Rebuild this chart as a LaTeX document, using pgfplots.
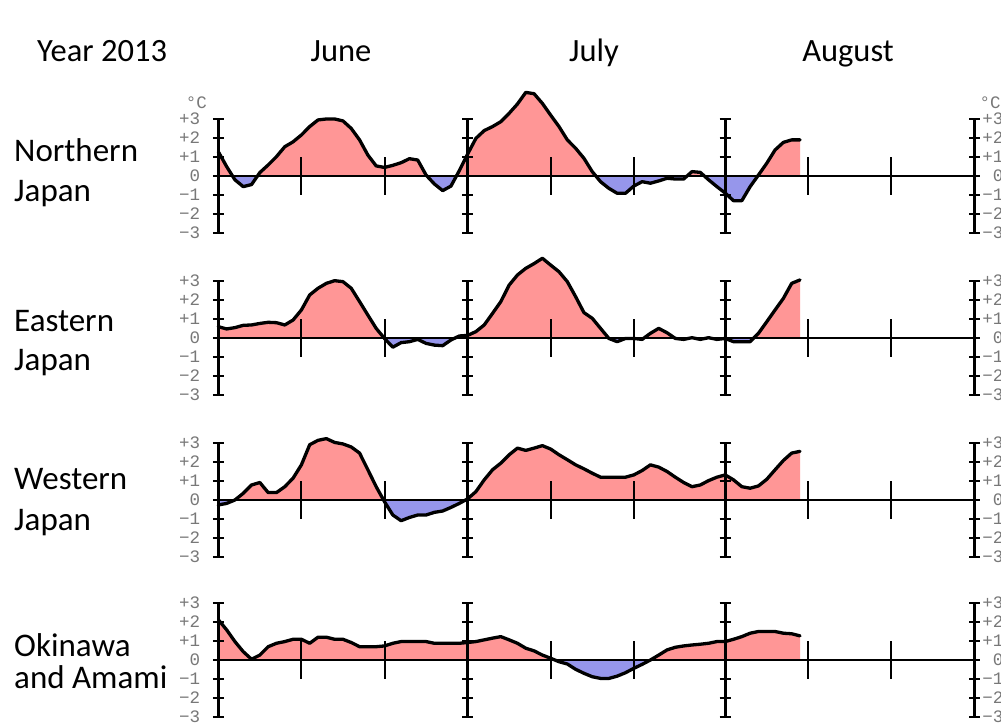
\documentclass[border=0pt]{standalone}
\usepackage{fontspec}
\setmainfont{Carlito}
\newfontfamily\monofont{Liberation Mono}
\usepackage{pgfplots}
\pgfplotsset{compat=1.18}
\usepackage{pgfplotstable}
\definecolor{posfill}{RGB}{255,150,150}
\definecolor{negfill}{RGB}{150,150,235}
\definecolor{lblgray}{RGB}{120,120,120}

% Northern Japan (day index: 1 = 1 June, 31 = 1 July, 62 = 1 August)
\pgfplotstableread{
d v
1 1.28
2 0.50
3 -0.20
4 -0.56
5 -0.45
6 0.18
7 0.58
8 1.02
9 1.54
10 1.80
11 2.16
12 2.60
13 2.95
14 3.00
15 3.00
16 2.90
17 2.50
18 1.90
19 1.10
20 0.53
21 0.45
22 0.56
23 0.70
24 0.91
25 0.84
26 0.05
27 -0.42
28 -0.77
29 -0.53
30 0.28
31 1.15
32 1.98
33 2.39
34 2.60
35 2.86
36 3.30
37 3.79
38 4.40
39 4.33
40 3.82
41 3.20
42 2.60
43 1.90
44 1.46
45 0.93
46 0.23
47 -0.30
48 -0.65
49 -0.91
50 -0.91
51 -0.53
52 -0.30
53 -0.38
54 -0.26
55 -0.12
56 -0.16
57 -0.16
58 0.23
59 0.19
60 -0.20
61 -0.56
62 -0.90
63 -1.30
64 -1.30
65 -0.56
66 0.05
67 0.67
68 1.37
69 1.77
70 1.90
71 1.90
}\dN

% Eastern Japan
\pgfplotstableread{
d v
1 0.58
2 0.46
3 0.53
4 0.65
5 0.67
6 0.75
7 0.81
8 0.79
9 0.67
10 0.93
11 1.46
12 2.25
13 2.60
14 2.86
15 3.00
16 2.95
17 2.60
18 1.90
19 1.19
20 0.49
21 -0.04
22 -0.50
23 -0.26
24 -0.21
25 -0.09
26 -0.30
27 -0.39
28 -0.42
29 -0.12
30 0.09
31 0.12
32 0.32
33 0.67
34 1.28
35 1.90
36 2.77
37 3.30
38 3.65
39 3.90
40 4.18
41 3.82
42 3.47
43 2.95
44 2.16
45 1.32
46 1.02
47 0.49
48 -0.04
49 -0.21
50 -0.04
51 -0.04
52 -0.09
53 0.23
54 0.49
55 0.26
56 -0.04
57 -0.09
58 0.00
59 -0.09
60 0.00
61 -0.09
62 -0.04
63 -0.21
64 -0.21
65 -0.21
66 0.23
67 0.84
68 1.46
69 2.07
70 2.86
71 3.04
}\dE

% Western Japan
\pgfplotstableread{
d v
1 -0.26
2 -0.18
3 0.00
4 0.35
5 0.79
6 0.92
7 0.39
8 0.39
9 0.70
10 1.15
11 1.85
12 2.91
13 3.14
14 3.23
15 3.03
16 2.95
17 2.79
18 2.47
19 1.59
20 0.70
21 -0.09
22 -0.79
23 -1.09
24 -0.92
25 -0.79
26 -0.79
27 -0.65
28 -0.58
29 -0.39
30 -0.18
31 0.06
32 0.44
33 1.06
34 1.59
35 1.94
36 2.38
37 2.73
38 2.61
39 2.73
40 2.86
41 2.68
42 2.38
43 2.12
44 1.85
45 1.64
46 1.41
47 1.20
48 1.20
49 1.20
50 1.20
51 1.32
52 1.55
53 1.85
54 1.73
55 1.50
56 1.20
57 0.92
58 0.70
59 0.79
60 1.02
61 1.20
62 1.32
63 1.06
64 0.70
65 0.62
66 0.74
67 1.09
68 1.59
69 2.08
70 2.47
71 2.56
}\dW

% Okinawa and Amami
\pgfplotstableread{
d v
1 2.12
2 1.59
3 0.97
4 0.44
5 0.04
6 0.26
7 0.70
8 0.88
9 0.97
10 1.09
11 1.09
12 0.88
13 1.20
14 1.20
15 1.09
16 1.09
17 0.92
18 0.70
19 0.70
20 0.70
21 0.74
22 0.88
23 0.97
24 0.97
25 0.97
26 0.97
27 0.88
28 0.88
29 0.88
30 0.88
31 0.92
32 0.97
33 1.06
34 1.15
35 1.23
36 1.06
37 0.88
38 0.62
39 0.48
40 0.26
41 0.09
42 -0.09
43 -0.21
44 -0.49
45 -0.70
46 -0.88
47 -0.97
48 -0.97
49 -0.85
50 -0.67
51 -0.44
52 -0.23
53 0.00
54 0.26
55 0.53
56 0.67
57 0.74
58 0.79
59 0.83
60 0.88
61 0.97
62 0.97
63 1.09
64 1.23
65 1.41
66 1.50
67 1.50
68 1.50
69 1.41
70 1.38
71 1.27
}\dO

\newcommand\monthaxis[1]{%
  \draw[line width=3pt, line cap=butt] (axis cs:#1,-3) -- (axis cs:#1,3);
  \draw[line width=2pt]
    ([xshift=-5.5pt]axis cs:#1,-3) -- ([xshift=5.5pt]axis cs:#1,-3)
    ([xshift=-5.5pt]axis cs:#1,-2) -- ([xshift=5.5pt]axis cs:#1,-2)
    ([xshift=-5.5pt]axis cs:#1,-1) -- ([xshift=5.5pt]axis cs:#1,-1)
    ([xshift=-5.5pt]axis cs:#1,0) -- ([xshift=5.5pt]axis cs:#1,0)
    ([xshift=-5.5pt]axis cs:#1,1) -- ([xshift=5.5pt]axis cs:#1,1)
    ([xshift=-5.5pt]axis cs:#1,2) -- ([xshift=5.5pt]axis cs:#1,2)
    ([xshift=-5.5pt]axis cs:#1,3) -- ([xshift=5.5pt]axis cs:#1,3);
}
\newcommand\rightlabels{%
  \node[lbl, anchor=east] at ([xshift=29pt]axis cs:92,3) {+3};
  \node[lbl, anchor=east] at ([xshift=29pt]axis cs:92,2) {+2};
  \node[lbl, anchor=east] at ([xshift=29pt]axis cs:92,1) {+1};
  \node[lbl, anchor=east] at ([xshift=29pt]axis cs:92,0) {0};
  \node[lbl, anchor=east] at ([xshift=29pt]axis cs:92,-1) {−1};
  \node[lbl, anchor=east] at ([xshift=29pt]axis cs:92,-2) {−2};
  \node[lbl, anchor=east] at ([xshift=29pt]axis cs:92,-3) {−3};
}
\newcommand\anomaly[1]{%
  \begin{scope}
    \clip (axis cs:1,0) rectangle (axis cs:92,6);
    \addplot[draw=none, fill=posfill] table[x=d, y=v] {#1} -- (axis cs:71,0) -- (axis cs:1,0) -- cycle;
  \end{scope}
  \begin{scope}
    \clip (axis cs:1,0) rectangle (axis cs:92,-6);
    \addplot[draw=none, fill=negfill] table[x=d, y=v] {#1} -- (axis cs:71,0) -- (axis cs:1,0) -- cycle;
  \end{scope}
  \monthaxis{1}\monthaxis{31}\monthaxis{62}\monthaxis{92}
  \addplot[black, line width=3.3pt, line join=round, line cap=round] table[x=d, y=v] {#1};
  \rightlabels
}

\tikzset{lbl/.style={font=\monofont\fontsize{17.5}{17.5}\selectfont, text=lblgray, inner sep=0pt},
  rowlbl/.style={font=\fontsize{33}{33}\selectfont, anchor=base west, inner sep=0pt},
  hdr/.style={font=\fontsize{32.5}{33}\selectfont, inner sep=0pt}}

\pgfplotsset{panel/.style={
  x=8.31pt, y=19pt, xmin=1, xmax=92, ymin=-3, ymax=3,
  enlargelimits=false, clip=false, anchor=south west,
  axis x line=middle, axis y line=left,
  axis line style={-, line width=2pt, black},
  xtick={11,21,41,51,72,82}, xticklabels={},
  ytick={-3,-2,-1,0,1,2,3},
  yticklabels={−3,−2,−1,0,+1,+2,+3},
  tick align=center, major tick length=38pt,
  xtick style={line width=2pt, black},
  ytick style={draw=none},
  yticklabel style={font=\monofont\fontsize{17.5}{17.5}\selectfont, text=lblgray, anchor=east, inner sep=0pt, xshift=1pt},
  axis on top,
}}

\begin{document}
\begin{tikzpicture}[x=1pt, y=1pt]
\useasboundingbox (0,0) rectangle (1001,725);
\fill[white] (0,0) rectangle (1001,725);

\node[hdr, anchor=base west] at (37,663) {Year 2013};
\node[hdr, anchor=base] at (341,663) {June};
\node[hdr, anchor=base] at (594,663) {July};
\node[hdr, anchor=base] at (848,663) {August};

\node[rowlbl] at (14,563) {Northern};
\node[rowlbl] at (14,523) {Japan};
\node[rowlbl] at (14,393) {Eastern};
\node[rowlbl] at (14,354) {Japan};
\node[rowlbl] at (14,235) {Western};
\node[rowlbl] at (14,194) {Japan};
\node[rowlbl] at (14,68.5) {Okinawa};
\node[rowlbl] at (14,36) {and Amami};

\begin{axis}[panel, at={(218.3pt,492pt)}]
\anomaly{\dN}
\node[lbl, anchor=south] at ([xshift=-22pt, yshift=10pt]axis cs:1,3) {°C};
\node[lbl, anchor=south west] at ([xshift=5pt, yshift=10pt]axis cs:92,3) {°C};
\end{axis}

\begin{axis}[panel, at={(218.3pt,330.3pt)}]
\anomaly{\dE}
\end{axis}

\begin{axis}[panel, at={(218.3pt,168pt)}]
\anomaly{\dW}
\end{axis}

\begin{axis}[panel, at={(218.3pt,8pt)}]
\anomaly{\dO}
\end{axis}
\end{tikzpicture}
\end{document}
